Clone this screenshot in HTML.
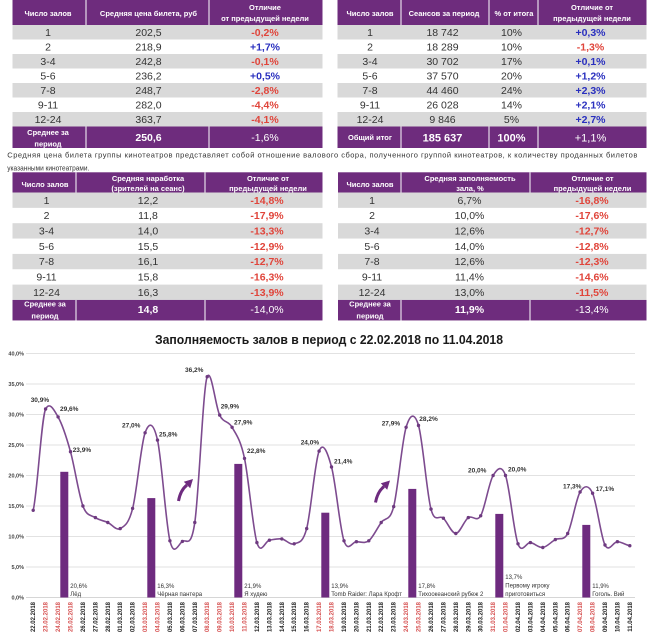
<!DOCTYPE html>
<html><head><meta charset="utf-8"><style>
html,body{margin:0;padding:0;background:#fff;}
svg{display:block;font-family:"Liberation Sans","DejaVu Sans",sans-serif;}
.h{fill:#fff;font-weight:bold;font-size:7.5px;text-anchor:middle}
.d{fill:#333;font-size:10.5px;text-anchor:middle}
.r{fill:#e0453b;font-weight:bold;font-size:10.5px;text-anchor:middle}
.b{fill:#2a30bf;font-weight:bold;font-size:10.5px;text-anchor:middle}
.fb{fill:#fff;font-weight:bold;font-size:10.5px;text-anchor:middle}
.fn{fill:#fff;font-size:10.5px;text-anchor:middle}
.fl{fill:#fff;font-weight:bold;font-size:7.5px;text-anchor:middle}
.yl{fill:#444;font-weight:bold;font-size:5.5px;text-anchor:end}
.xl{fill:#222;font-weight:bold;font-size:6px;text-anchor:end}
.xr{fill:#d65050;font-weight:bold;font-size:6px;text-anchor:end}
.dl{fill:#333;font-weight:bold;font-size:6.5px}
.bl{fill:#333;font-size:6px}
</style></head><body>
<svg width="650" height="636" viewBox="0 0 650 636" xmlns="http://www.w3.org/2000/svg">
<rect width="650" height="636" fill="#fff"/>

<!-- ===== Top-left table ===== -->
<rect x="12.5" y="0" width="310" height="25" fill="#6e2c7d"/>
<rect x="12.5" y="25" width="310" height="14.5" fill="#d9d9d9"/>
<rect x="12.5" y="54" width="310" height="14.5" fill="#d9d9d9"/>
<rect x="12.5" y="83" width="310" height="14.5" fill="#d9d9d9"/>
<rect x="12.5" y="112" width="310" height="14.5" fill="#d9d9d9"/>
<rect x="12.5" y="126.5" width="310" height="21.5" fill="#6e2c7d"/>
<g stroke="#fff" stroke-width="1">
<line x1="86" y1="0" x2="86" y2="25"/><line x1="209" y1="0" x2="209" y2="25"/>
<line x1="86" y1="126.5" x2="86" y2="148"/><line x1="209" y1="126.5" x2="209" y2="148"/>
</g>
<text class="h" x="48" y="16">Число залов</text>
<text class="h" x="148.5" y="16">Средняя цена билета, руб</text>
<text class="h" x="265" y="10">Отличие</text>
<text class="h" x="265" y="21">от предыдущей недели</text>
<g>
<text class="d" x="48" y="36">1</text><text class="d" x="148.5" y="36">202,5</text><text class="r" x="265" y="36">-0,2%</text>
<text class="d" x="48" y="50.5">2</text><text class="d" x="148.5" y="50.5">218,9</text><text class="b" x="265" y="50.5">+1,7%</text>
<text class="d" x="48" y="65">3-4</text><text class="d" x="148.5" y="65">242,8</text><text class="r" x="265" y="65">-0,1%</text>
<text class="d" x="48" y="79.5">5-6</text><text class="d" x="148.5" y="79.5">236,2</text><text class="b" x="265" y="79.5">+0,5%</text>
<text class="d" x="48" y="94">7-8</text><text class="d" x="148.5" y="94">248,7</text><text class="r" x="265" y="94">-2,8%</text>
<text class="d" x="48" y="108.5">9-11</text><text class="d" x="148.5" y="108.5">282,0</text><text class="r" x="265" y="108.5">-4,4%</text>
<text class="d" x="48" y="123">12-24</text><text class="d" x="148.5" y="123">363,7</text><text class="r" x="265" y="123">-4,1%</text>
</g>
<text class="fl" x="48" y="135">Среднее за</text>
<text class="fl" x="48" y="146.5">период</text>
<text class="fb" x="148.5" y="141">250,6</text>
<text class="fn" x="265" y="141">-1,6%</text>

<!-- ===== Top-right table ===== -->
<rect x="337.5" y="0" width="309" height="25" fill="#6e2c7d"/>
<rect x="337.5" y="25" width="309" height="14.5" fill="#d9d9d9"/>
<rect x="337.5" y="54" width="309" height="14.5" fill="#d9d9d9"/>
<rect x="337.5" y="83" width="309" height="14.5" fill="#d9d9d9"/>
<rect x="337.5" y="112" width="309" height="14.5" fill="#d9d9d9"/>
<rect x="337.5" y="126.5" width="309" height="21.5" fill="#6e2c7d"/>
<g stroke="#fff" stroke-width="1">
<line x1="401" y1="0" x2="401" y2="25"/><line x1="489" y1="0" x2="489" y2="25"/><line x1="538" y1="0" x2="538" y2="25"/>
<line x1="401" y1="126.5" x2="401" y2="148"/><line x1="489" y1="126.5" x2="489" y2="148"/><line x1="538" y1="126.5" x2="538" y2="148"/>
</g>
<text class="h" x="370" y="16">Число залов</text>
<text class="h" x="444" y="16">Сеансов за период</text>
<text class="h" x="514" y="16">% от итога</text>
<text class="h" x="592" y="10">Отличие от</text>
<text class="h" x="592" y="21">предыдущей недели</text>
<g>
<text class="d" x="370" y="36">1</text><text class="d" x="442.5" y="36">18 742</text><text class="d" x="511.5" y="36">10%</text><text class="b" x="590.5" y="36">+0,3%</text>
<text class="d" x="370" y="50.5">2</text><text class="d" x="442.5" y="50.5">18 289</text><text class="d" x="511.5" y="50.5">10%</text><text class="r" x="590.5" y="50.5">-1,3%</text>
<text class="d" x="370" y="65">3-4</text><text class="d" x="442.5" y="65">30 702</text><text class="d" x="511.5" y="65">17%</text><text class="b" x="590.5" y="65">+0,1%</text>
<text class="d" x="370" y="79.5">5-6</text><text class="d" x="442.5" y="79.5">37 570</text><text class="d" x="511.5" y="79.5">20%</text><text class="b" x="590.5" y="79.5">+1,2%</text>
<text class="d" x="370" y="94">7-8</text><text class="d" x="442.5" y="94">44 460</text><text class="d" x="511.5" y="94">24%</text><text class="b" x="590.5" y="94">+2,3%</text>
<text class="d" x="370" y="108.5">9-11</text><text class="d" x="442.5" y="108.5">26 028</text><text class="d" x="511.5" y="108.5">14%</text><text class="b" x="590.5" y="108.5">+2,1%</text>
<text class="d" x="370" y="123">12-24</text><text class="d" x="442.5" y="123">9 846</text><text class="d" x="511.5" y="123">5%</text><text class="b" x="590.5" y="123">+2,7%</text>
</g>
<text class="fl" x="370" y="140">Общий итог</text>
<text class="fb" x="442.5" y="141.5" style="font-size:11px">185 637</text>
<text class="fb" x="511.5" y="141.5" style="font-size:11px">100%</text>
<text class="fn" x="590.5" y="141.5" style="font-size:11px">+1,1%</text>

<!-- ===== Paragraph ===== -->
<text x="7.3" y="157.5" fill="#333" font-size="7.5" textLength="630" lengthAdjust="spacing">Средняя цена билета группы кинотеатров представляет собой отношение валового сбора, полученного группой кинотеатров, к количеству проданных билетов</text>
<text x="7.3" y="170.5" fill="#333" font-size="7.5" textLength="82" lengthAdjust="spacingAndGlyphs">указанными кинотеатрами.</text>

<!-- ===== Middle-left table ===== -->
<rect x="12.5" y="172.3" width="310" height="20.2" fill="#6e2c7d"/>
<rect x="12.5" y="192.5" width="310" height="15.35" fill="#d9d9d9"/>
<rect x="12.5" y="223.2" width="310" height="15.35" fill="#d9d9d9"/>
<rect x="12.5" y="253.9" width="310" height="15.35" fill="#d9d9d9"/>
<rect x="12.5" y="284.6" width="310" height="15.35" fill="#d9d9d9"/>
<rect x="12.5" y="299.95" width="310" height="20.5" fill="#6e2c7d"/>
<g stroke="#fff" stroke-width="1">
<line x1="76" y1="172.3" x2="76" y2="192.5"/><line x1="205" y1="172.3" x2="205" y2="192.5"/>
<line x1="76" y1="300" x2="76" y2="320.5"/><line x1="205" y1="300" x2="205" y2="320.5"/>
</g>
<text class="h" x="45" y="187">Число залов</text>
<text class="h" x="148" y="181">Средняя наработка</text>
<text class="h" x="148" y="191">(зрителей на сеанс)</text>
<text class="h" x="268" y="181">Отличие от</text>
<text class="h" x="268" y="191">предыдущей недели</text>
<g>
<text class="d" x="46.5" y="203.8">1</text><text class="d" x="148" y="203.8">12,2</text><text class="r" x="267" y="203.8">-14,8%</text>
<text class="d" x="46.5" y="219.15">2</text><text class="d" x="148" y="219.15">11,8</text><text class="r" x="267" y="219.15">-17,9%</text>
<text class="d" x="46.5" y="234.5">3-4</text><text class="d" x="148" y="234.5">14,0</text><text class="r" x="267" y="234.5">-13,3%</text>
<text class="d" x="46.5" y="249.85">5-6</text><text class="d" x="148" y="249.85">15,5</text><text class="r" x="267" y="249.85">-12,9%</text>
<text class="d" x="46.5" y="265.2">7-8</text><text class="d" x="148" y="265.2">16,1</text><text class="r" x="267" y="265.2">-12,7%</text>
<text class="d" x="46.5" y="280.55">9-11</text><text class="d" x="148" y="280.55">15,8</text><text class="r" x="267" y="280.55">-16,3%</text>
<text class="d" x="46.5" y="295.9">12-24</text><text class="d" x="148" y="295.9">16,3</text><text class="r" x="267" y="295.9">-13,9%</text>
</g>
<text class="fl" x="45" y="306.7">Среднее за</text>
<text class="fl" x="45" y="318.3">период</text>
<text class="fb" x="148" y="312.8">14,8</text>
<text class="fn" x="267" y="312.8">-14,0%</text>

<!-- ===== Middle-right table ===== -->
<rect x="338" y="172.3" width="308.5" height="20.2" fill="#6e2c7d"/>
<rect x="338" y="192.5" width="308.5" height="15.35" fill="#d9d9d9"/>
<rect x="338" y="223.2" width="308.5" height="15.35" fill="#d9d9d9"/>
<rect x="338" y="253.9" width="308.5" height="15.35" fill="#d9d9d9"/>
<rect x="338" y="284.6" width="308.5" height="15.35" fill="#d9d9d9"/>
<rect x="338" y="299.95" width="308.5" height="20.5" fill="#6e2c7d"/>
<g stroke="#fff" stroke-width="1">
<line x1="401" y1="172.3" x2="401" y2="192.5"/><line x1="530" y1="172.3" x2="530" y2="192.5"/>
<line x1="401" y1="300" x2="401" y2="320.5"/><line x1="530" y1="300" x2="530" y2="320.5"/>
</g>
<text class="h" x="370" y="187">Число залов</text>
<text class="h" x="470" y="181">Средняя заполняемость</text>
<text class="h" x="470" y="191">зала, %</text>
<text class="h" x="592.5" y="181">Отличие от</text>
<text class="h" x="592.5" y="191">предыдущей недели</text>
<g>
<text class="d" x="372" y="203.8">1</text><text class="d" x="469.5" y="203.8">6,7%</text><text class="r" x="592" y="203.8">-16,8%</text>
<text class="d" x="372" y="219.15">2</text><text class="d" x="469.5" y="219.15">10,0%</text><text class="r" x="592" y="219.15">-17,6%</text>
<text class="d" x="372" y="234.5">3-4</text><text class="d" x="469.5" y="234.5">12,6%</text><text class="r" x="592" y="234.5">-12,7%</text>
<text class="d" x="372" y="249.85">5-6</text><text class="d" x="469.5" y="249.85">14,0%</text><text class="r" x="592" y="249.85">-12,8%</text>
<text class="d" x="372" y="265.2">7-8</text><text class="d" x="469.5" y="265.2">12,6%</text><text class="r" x="592" y="265.2">-12,3%</text>
<text class="d" x="372" y="280.55">9-11</text><text class="d" x="469.5" y="280.55">11,4%</text><text class="r" x="592" y="280.55">-14,6%</text>
<text class="d" x="372" y="295.9">12-24</text><text class="d" x="469.5" y="295.9">13,0%</text><text class="r" x="592" y="295.9">-11,5%</text>
</g>
<text class="fl" x="370" y="306.7">Среднее за</text>
<text class="fl" x="370" y="318.3">период</text>
<text class="fb" x="469.5" y="312.8">11,9%</text>
<text class="fn" x="592" y="312.8">-13,4%</text>

<!-- ===== Chart ===== -->
<text x="155" y="343.8" fill="#1a1a1a" font-weight="bold" font-size="12.5" textLength="348" lengthAdjust="spacingAndGlyphs">Заполняемость залов в период с 22.02.2018 по 11.04.2018</text>

<g stroke="#d9d9d9" stroke-width="0.8">
<line x1="26" y1="353.5" x2="635" y2="353.5"/>
<line x1="26" y1="384" x2="635" y2="384"/>
<line x1="26" y1="414.5" x2="635" y2="414.5"/>
<line x1="26" y1="445" x2="635" y2="445"/>
<line x1="26" y1="475.5" x2="635" y2="475.5"/>
<line x1="26" y1="506" x2="635" y2="506"/>
<line x1="26" y1="536.5" x2="635" y2="536.5"/>
<line x1="26" y1="567" x2="635" y2="567"/>
<line x1="26" y1="597.5" x2="635" y2="597.5" stroke="#c8c8c8"/>
</g>
<text class="yl" x="24" y="355.4">40,0%</text>
<text class="yl" x="24" y="385.9">35,0%</text>
<text class="yl" x="24" y="416.4">30,0%</text>
<text class="yl" x="24" y="446.9">25,0%</text>
<text class="yl" x="24" y="477.4">20,0%</text>
<text class="yl" x="24" y="507.9">15,0%</text>
<text class="yl" x="24" y="538.4">10,0%</text>
<text class="yl" x="24" y="568.9">5,0%</text>
<text class="yl" x="24" y="599.4">0,0%</text>

<!-- bars -->
<g fill="#6e2b7f">
<rect x="60.3" y="471.8" width="8" height="125.7"/>
<rect x="147.3" y="498.1" width="8" height="99.4"/>
<rect x="234.3" y="463.9" width="8" height="133.6"/>
<rect x="321.3" y="512.7" width="8" height="84.8"/>
<rect x="408.3" y="488.9" width="8" height="108.6"/>
<rect x="495.3" y="513.9" width="8" height="83.6"/>
<rect x="582.3" y="524.9" width="8" height="72.6"/>
</g>
<g class="bl">
<text class="bl" x="70.3" y="588">20,6%</text><text class="bl" x="70.3" y="596">Лёд</text>
<text class="bl" x="157.3" y="588">16,3%</text><text class="bl" x="157.3" y="596">Чёрная пантера</text>
<text class="bl" x="244.3" y="588">21,9%</text><text class="bl" x="244.3" y="596">Я худею</text>
<text class="bl" x="331.3" y="588">13,9%</text><text class="bl" x="331.3" y="596">Tomb Raider: Лара Крофт</text>
<text class="bl" x="418.3" y="588">17,8%</text><text class="bl" x="418.3" y="596">Тихоокеанский рубеж 2</text>
<text class="bl" x="505.3" y="579">13,7%</text><text class="bl" x="505.3" y="587.5">Первому игроку</text><text class="bl" x="505.3" y="596">приготовиться</text>
<text class="bl" x="592.3" y="588">11,9%</text><text class="bl" x="592.3" y="596">Гоголь. Вий</text>
</g>

<!-- smoothed line -->
<path transform="translate(33.2,597.5) scale(12.43,-6.1)" vector-effect="non-scaling-stroke" fill="none" stroke="#7d4b8f" stroke-width="1.6" d="M0,14.3
C.33,17.07 .67,29.6 1,30.9
C1.33,32.2 1.67,30.77 2,29.6
C2.33,28.43 2.67,26.33 3,23.9
C3.33,21.47 3.67,16.8 4,15
C4.33,13.2 4.67,13.55 5,13.1
C5.33,12.65 5.67,12.6 6,12.3
C6.33,12 6.67,10.92 7,11.3
C7.33,11.68 7.67,11.98 8,14.6
C8.33,17.22 8.67,25.13 9,27
C9.33,28.87 9.67,28.75 10,25.8
C10.33,22.85 10.67,12.07 11,9.3
C11.33,6.53 11.67,8.7 12,9.2
C12.33,9.7 12.67,7.8 13,12.3
C13.33,16.8 13.67,34.7 14,36.2
C14.33,37.7 14.67,31.28 15,29.9
C15.33,28.52 15.67,29.08 16,27.9
C16.33,26.72 16.67,25.95 17,22.8
C17.33,19.65 17.67,11.23 18,9
C18.33,6.77 18.67,9.3 19,9.4
C19.33,9.5 19.67,9.7 20,9.6
C20.33,9.5 20.67,8.52 21,8.8
C21.33,9.08 21.67,8.77 22,11.3
C22.33,13.83 22.67,22.32 23,24
C23.33,25.68 23.67,23.85 24,21.4
C24.33,18.95 24.67,11.34 25,9.3
C25.33,7.26 25.67,9.15 26,9.15
C26.33,9.15 26.67,8.77 27,9.3
C27.33,9.83 27.67,11.37 28,12.3
C28.33,13.23 28.67,12.3 29,14.9
C29.33,17.5 29.67,25.68 30,27.9
C30.33,30.12 30.67,30.43 31,28.2
C31.33,25.97 31.67,17.03 32,14.5
C32.33,11.97 32.67,13.67 33,13
C33.33,12.33 33.67,10.48 34,10.5
C34.33,10.52 34.67,12.62 35,13.1
C35.33,13.58 35.67,12.25 36,13.4
C36.33,14.55 36.67,18.9 37,20
C37.33,21.1 37.67,21.87 38,20
C38.33,18.13 38.67,10.63 39,8.8
C39.33,6.97 39.67,9.1 40,9
C40.33,8.9 40.67,8.12 41,8.2
C41.33,8.28 41.67,9.12 42,9.5
C42.33,9.88 42.67,9.2 43,10.5
C43.33,11.8 43.67,16.2 44,17.3
C44.33,18.4 44.67,18.55 45,17.1
C45.33,15.65 45.67,9.93 46,8.6
C46.33,7.27 46.67,9.17 47,9.15
C47.33,9.13 47.67,8.61 48,8.5"/>

<!-- markers -->
<g fill="#6e3a80">
<circle cx="33.2" cy="510.3" r="1.7"/><circle cx="45.6" cy="409" r="1.7"/><circle cx="58.1" cy="416.9" r="1.7"/><circle cx="70.5" cy="451.7" r="1.7"/>
<circle cx="82.9" cy="506" r="1.7"/><circle cx="95.4" cy="517.6" r="1.7"/><circle cx="107.8" cy="522.5" r="1.7"/><circle cx="120.2" cy="528.6" r="1.7"/>
<circle cx="132.6" cy="508.4" r="1.7"/><circle cx="145.1" cy="432.8" r="1.7"/><circle cx="157.5" cy="440.1" r="1.7"/><circle cx="169.9" cy="540.8" r="1.7"/>
<circle cx="182.4" cy="541.4" r="1.7"/><circle cx="194.8" cy="522.5" r="1.7"/><circle cx="207.2" cy="376.7" r="1.7"/><circle cx="219.7" cy="415.1" r="1.7"/>
<circle cx="232.1" cy="427.3" r="1.7"/><circle cx="244.5" cy="458.4" r="1.7"/><circle cx="256.9" cy="542.6" r="1.7"/><circle cx="269.4" cy="540.2" r="1.7"/>
<circle cx="281.8" cy="538.9" r="1.7"/><circle cx="294.2" cy="543.8" r="1.7"/><circle cx="306.7" cy="528.6" r="1.7"/><circle cx="319.1" cy="451.1" r="1.7"/>
<circle cx="331.5" cy="467" r="1.7"/><circle cx="344" cy="540.8" r="1.7"/><circle cx="356.4" cy="541.7" r="1.7"/><circle cx="368.8" cy="540.8" r="1.7"/>
<circle cx="381.2" cy="522.5" r="1.7"/><circle cx="393.7" cy="506.6" r="1.7"/><circle cx="406.1" cy="427.3" r="1.7"/><circle cx="418.5" cy="425.5" r="1.7"/>
<circle cx="431" cy="509.1" r="1.7"/><circle cx="443.4" cy="518.2" r="1.7"/><circle cx="455.8" cy="533.5" r="1.7"/><circle cx="468.3" cy="517.6" r="1.7"/>
<circle cx="480.7" cy="515.8" r="1.7"/><circle cx="493.1" cy="475.5" r="1.7"/><circle cx="505.5" cy="475.5" r="1.7"/><circle cx="518" cy="543.8" r="1.7"/>
<circle cx="530.4" cy="542.6" r="1.7"/><circle cx="542.8" cy="547.5" r="1.7"/><circle cx="555.3" cy="539.6" r="1.7"/><circle cx="567.7" cy="533.5" r="1.7"/>
<circle cx="580.1" cy="492" r="1.7"/><circle cx="592.6" cy="493.2" r="1.7"/><circle cx="605" cy="545" r="1.7"/><circle cx="617.4" cy="541.7" r="1.7"/>
<circle cx="629.8" cy="545.7" r="1.7"/>
</g>

<!-- data labels -->
<g class="dl">
<text class="dl" x="30.7" y="402">30,9%</text>
<text class="dl" x="60" y="411">29,6%</text>
<text class="dl" x="72.7" y="452">23,9%</text>
<text class="dl" x="122" y="427.7">27,0%</text>
<text class="dl" x="159" y="436.3">25,8%</text>
<text class="dl" x="185" y="372">36,2%</text>
<text class="dl" x="220.7" y="408.7">29,9%</text>
<text class="dl" x="234" y="424.3">27,9%</text>
<text class="dl" x="247" y="453">22,8%</text>
<text class="dl" x="300.7" y="444.3">24,0%</text>
<text class="dl" x="334" y="463.7">21,4%</text>
<text class="dl" x="381.7" y="425.3">27,9%</text>
<text class="dl" x="419.3" y="421">28,2%</text>
<text class="dl" x="468" y="472.7">20,0%</text>
<text class="dl" x="508" y="471.3">20,0%</text>
<text class="dl" x="563" y="488.7">17,3%</text>
<text class="dl" x="595.7" y="491">17,1%</text>
</g>

<!-- arrows -->
<g fill="#6e2b7f" stroke="none">
<path d="M178.5,501 Q180.5,490 187,485" fill="none" stroke="#6e2b7f" stroke-width="3"/>
<polygon points="183.8,481.8 190.2,488.2 193,479"/>
<path d="M375.5,502.5 Q377.5,491.5 384,486.5" fill="none" stroke="#6e2b7f" stroke-width="3"/>
<polygon points="380.8,483.3 387.2,489.7 390,480.5"/>
</g>

<!-- x labels -->
<g>
<text class="xl" transform="translate(35.2,602) rotate(-90)">22.02.2018</text>
<text class="xr" transform="translate(47.63,602) rotate(-90)">23.02.2018</text>
<text class="xr" transform="translate(60.06,602) rotate(-90)">24.02.2018</text>
<text class="xr" transform="translate(72.49,602) rotate(-90)">25.02.2018</text>
<text class="xl" transform="translate(84.92,602) rotate(-90)">26.02.2018</text>
<text class="xl" transform="translate(97.35,602) rotate(-90)">27.02.2018</text>
<text class="xl" transform="translate(109.78,602) rotate(-90)">28.02.2018</text>
<text class="xl" transform="translate(122.21,602) rotate(-90)">01.03.2018</text>
<text class="xl" transform="translate(134.64,602) rotate(-90)">02.03.2018</text>
<text class="xr" transform="translate(147.07,602) rotate(-90)">03.03.2018</text>
<text class="xr" transform="translate(159.5,602) rotate(-90)">04.03.2018</text>
<text class="xl" transform="translate(171.93,602) rotate(-90)">05.03.2018</text>
<text class="xl" transform="translate(184.36,602) rotate(-90)">06.03.2018</text>
<text class="xl" transform="translate(196.79,602) rotate(-90)">07.03.2018</text>
<text class="xr" transform="translate(209.22,602) rotate(-90)">08.03.2018</text>
<text class="xr" transform="translate(221.65,602) rotate(-90)">09.03.2018</text>
<text class="xr" transform="translate(234.08,602) rotate(-90)">10.03.2018</text>
<text class="xr" transform="translate(246.51,602) rotate(-90)">11.03.2018</text>
<text class="xl" transform="translate(258.94,602) rotate(-90)">12.03.2018</text>
<text class="xl" transform="translate(271.37,602) rotate(-90)">13.03.2018</text>
<text class="xl" transform="translate(283.8,602) rotate(-90)">14.03.2018</text>
<text class="xl" transform="translate(296.23,602) rotate(-90)">15.03.2018</text>
<text class="xl" transform="translate(308.66,602) rotate(-90)">16.03.2018</text>
<text class="xr" transform="translate(321.09,602) rotate(-90)">17.03.2018</text>
<text class="xr" transform="translate(333.52,602) rotate(-90)">18.03.2018</text>
<text class="xl" transform="translate(345.95,602) rotate(-90)">19.03.2018</text>
<text class="xl" transform="translate(358.38,602) rotate(-90)">20.03.2018</text>
<text class="xl" transform="translate(370.81,602) rotate(-90)">21.03.2018</text>
<text class="xl" transform="translate(383.24,602) rotate(-90)">22.03.2018</text>
<text class="xl" transform="translate(395.67,602) rotate(-90)">23.03.2018</text>
<text class="xr" transform="translate(408.1,602) rotate(-90)">24.03.2018</text>
<text class="xr" transform="translate(420.53,602) rotate(-90)">25.03.2018</text>
<text class="xl" transform="translate(432.96,602) rotate(-90)">26.03.2018</text>
<text class="xl" transform="translate(445.39,602) rotate(-90)">27.03.2018</text>
<text class="xl" transform="translate(457.82,602) rotate(-90)">28.03.2018</text>
<text class="xl" transform="translate(470.25,602) rotate(-90)">29.03.2018</text>
<text class="xl" transform="translate(482.68,602) rotate(-90)">30.03.2018</text>
<text class="xr" transform="translate(495.11,602) rotate(-90)">31.03.2018</text>
<text class="xr" transform="translate(507.54,602) rotate(-90)">01.04.2018</text>
<text class="xl" transform="translate(519.97,602) rotate(-90)">02.04.2018</text>
<text class="xl" transform="translate(532.4,602) rotate(-90)">03.04.2018</text>
<text class="xl" transform="translate(544.83,602) rotate(-90)">04.04.2018</text>
<text class="xl" transform="translate(557.26,602) rotate(-90)">05.04.2018</text>
<text class="xl" transform="translate(569.69,602) rotate(-90)">06.04.2018</text>
<text class="xr" transform="translate(582.12,602) rotate(-90)">07.04.2018</text>
<text class="xr" transform="translate(594.55,602) rotate(-90)">08.04.2018</text>
<text class="xl" transform="translate(606.98,602) rotate(-90)">09.04.2018</text>
<text class="xl" transform="translate(619.41,602) rotate(-90)">10.04.2018</text>
<text class="xl" transform="translate(631.84,602) rotate(-90)">11.04.2018</text>
</g>
</svg>
</body></html>
